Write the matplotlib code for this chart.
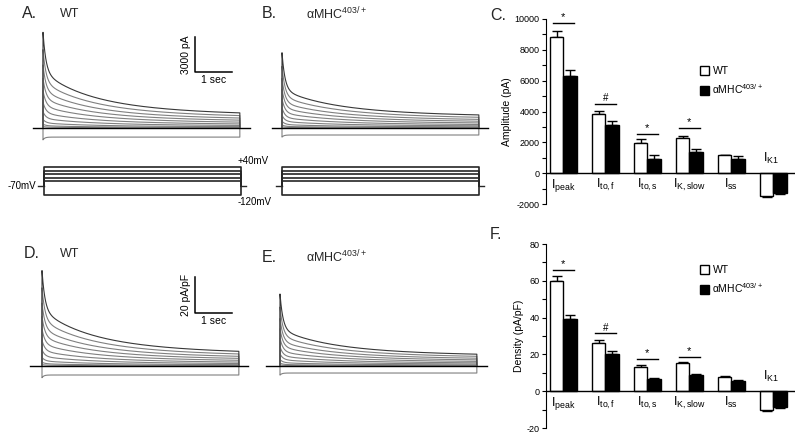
import numpy as np
import matplotlib.pyplot as plt
from matplotlib.patches import Patch
from matplotlib.ticker import MultipleLocator

plt.rcParams['font.family'] = ['Liberation Sans', 'DejaVu Sans']
plt.rcParams['mathtext.fontset'] = 'custom'
plt.rcParams['mathtext.rm'] = 'Liberation Sans'
plt.rcParams['mathtext.it'] = 'Liberation Sans'
plt.rcParams['mathtext.default'] = 'regular'
plt.rcParams['axes.unicode_minus'] = False

W, H = 800, 437

currents = [r'I$_{peak}$', r'I$_{to,f}$', r'I$_{to,s}$', r'I$_{K,slow}$', r'I$_{ss}$', r'I$_{K1}$']
amp_wt = [8850, 3850, 1950, 2250, 1150, -1450]
amp_wt_err = [350, 200, 250, 150, 50, 100]
amp_mut = [6300, 3150, 950, 1400, 950, -1300]
amp_mut_err = [400, 250, 250, 150, 150, 80]
dens_wt = [60, 26, 13, 15.5, 7.5, -10]
dens_wt_err = [2.5, 2, 1.2, 0.6, 0.5, 1]
dens_mut = [39, 20, 6.5, 9, 5.8, -8.5]
dens_mut_err = [2.5, 1.8, 0.6, 0.6, 0.5, 0.5]
amp_sig_idx = [0, 1, 2, 3]
amp_sig_y = [9750, 4500, 2550, 2950]
dens_sig_y = [66, 31.5, 17.5, 18.5]
sig_marks = ['*', '#', '*', '*']

# ---- current traces: components of the +40 mV trace (Ito,f, Ito,s, IK,slow, Iss) ----
comp_taus = [0.08, 1.0, 2.5]          # s
trace_A = [3400, 1750, 2000, 1050]    # pA
trace_B = [3150, 950, 1400, 950]
trace_D = [22, 11, 13.5, 6.5]         # pA/pF
trace_E = [19.5, 6.3, 8.7, 5.5]
step_scale = [1.0, 0.82, 0.66, 0.52, 0.39, 0.27, 0.17, 0.09, 0.04, 0.015]
inward_A, inward_B, inward_D, inward_E = -780, -600, -5.0, -3.9
pulse_dur = 5.32                      # s

# voltage protocol
steps_mv = [40, 20, 0, -20, -40, -120]
hold_mv = -70

fig = plt.figure(figsize=(W / 100, H / 100), dpi=100)


def px_axes(x0, y0, x1, y1):
    return fig.add_axes([x0 / W, 1 - y1 / H, (x1 - x0) / W, (y1 - y0) / H])


def trace_panel(box, t0_px, base_px, px_per_unit, comps, inward, line_px):
    x0, y0, x1, y1 = box
    pps = 37.0
    ax = px_axes(*box)
    ax.set_xlim((x0 - t0_px) / pps, (x1 - t0_px) / pps)
    ax.set_ylim(-(y1 - base_px) / px_per_unit, (base_px - y0) / px_per_unit)
    ax.axis('off')
    t = np.concatenate([np.linspace(0, 0.3, 400), np.linspace(0.3, pulse_dur, 600)[1:]])
    for s in step_scale[::-1]:
        cur = s * (comps[0] * np.exp(-t / comp_taus[0]) + comps[1] * np.exp(-t / comp_taus[1])
                   + comps[2] * np.exp(-t / comp_taus[2]) + comps[3])
        col = '0.22' if s == 1.0 else '0.5'
        ax.plot(np.r_[0, t, pulse_dur], np.r_[0, cur, 0], color=col, lw=0.8)
    cur = inward * (1 + 0.3 * np.exp(-t / 0.05))
    ax.plot(np.r_[0, t, pulse_dur], np.r_[0, cur, 0], color='0.5', lw=0.8)
    ax.plot([(line_px[0] - t0_px) / pps, (line_px[1] - t0_px) / pps], [0, 0], color='k', lw=1)
    return ax


def protocol_panel(t0_px, labels):
    pps = 37.0
    mv_px = 0.175
    x0 = 0 if labels else 250
    x1 = 280 if labels else 520
    ax = px_axes(x0, 150, x1, 215)
    ax.set_xlim((x0 - t0_px) / pps, (x1 - t0_px) / pps)
    ax.set_ylim(40 - (215 - 167) / mv_px, 40 + (167 - 150) / mv_px)
    ax.axis('off')
    for v in steps_mv:
        ax.plot([0, 0, pulse_dur, pulse_dur], [hold_mv, v, v, hold_mv], color='0.15', lw=1.2)
    ax.plot([-0.15, 0], [hold_mv, hold_mv], color='0.15', lw=1)
    ax.plot([pulse_dur, pulse_dur + 0.15], [hold_mv, hold_mv], color='0.15', lw=1)
    if labels:
        ax.text(-0.2, hold_mv, '-70mV', ha='right', va='center', fontsize=7)
        ax.text(pulse_dur - 0.1, steps_mv[0] + 4, '+40mV', ha='left', va='bottom', fontsize=7)
        ax.text(pulse_dur - 0.1, steps_mv[-1] - 10, '-120mV', ha='left', va='top', fontsize=7)


def scale_bar(ax, t, y, dy, label_y):
    ax.plot([t, t, t + 1], [y + dy, y, y], color='k', lw=1.1)
    ax.annotate(label_y, (t, y + dy / 2), xytext=(-3, 0), textcoords='offset points',
                rotation=90, ha='right', va='center', fontsize=7.5)
    ax.annotate('1 sec', (t + 0.5, y), xytext=(0, -2), textcoords='offset points',
                ha='center', va='top', fontsize=7.5)


axA = trace_panel((25, 22, 255, 150), 43, 128, 35 / 3000, trace_A, inward_A, (33, 250))
scale_bar(axA, (195 - 43) / 37, (128 - 72) * 3000 / 35, 3000, '3000 pA')
axB = trace_panel((265, 22, 495, 150), 282, 128, 35 / 3000, trace_B, inward_B, (272, 488))
axD = trace_panel((25, 262, 255, 390), 42, 366, 1.8, trace_D, inward_D, (30, 248))
scale_bar(axD, (195 - 42) / 37, (366 - 313) / 1.8, 20, '20 pA/pF')
axE = trace_panel((262, 262, 495, 390), 280, 366, 1.8, trace_E, inward_E, (266, 487))
protocol_panel(44, True)
protocol_panel(282, False)


def bar_panel(box, wt, wt_err, mut, mut_err, sig_y, ylim, major, minor, ylabel, leg_y):
    ax = px_axes(*box)
    ax.set_xlim(-0.412, 5.517)
    ax.set_ylim(*ylim)
    x = np.arange(len(currents))
    w = 0.32
    ax.bar(x - w / 2, wt, w, color='white', edgecolor='k', lw=1, zorder=2)
    ax.bar(x + w / 2, mut, w, color='k', edgecolor='k', lw=1, zorder=2)
    for xs, vals, errs in ((x - w / 2, wt, wt_err), (x + w / 2, mut, mut_err)):
        lo = [e if v < 0 else 0 for v, e in zip(vals, errs)]
        hi = [0 if v < 0 else e for v, e in zip(vals, errs)]
        ax.errorbar(xs, vals, yerr=[lo, hi], fmt='none', ecolor='k', elinewidth=1,
                    capsize=3.5, capthick=1, zorder=1)
    ax.axhline(0, color='k', lw=1, zorder=3)
    for i, lab in enumerate(currents):
        if wt[i] < 0:
            ax.annotate(lab, (i - 0.05, 0), xytext=(0, 5), textcoords='offset points',
                        ha='center', va='bottom', fontsize=9)
        else:
            ax.annotate(lab, (i, 0), xytext=(0, -3), textcoords='offset points',
                        ha='center', va='top', fontsize=9)
    for i, y, m in zip(amp_sig_idx, sig_y, sig_marks):
        ax.plot([i - 0.25, i + 0.25], [y, y], color='k', lw=1)
        ax.annotate(m, (i, y), xytext=(0, 0.5), textcoords='offset points',
                    ha='center', va='bottom', fontsize=8 if m == '*' else 7)
    for s in ('top', 'right', 'bottom'):
        ax.spines[s].set_visible(False)
    ax.spines['left'].set_linewidth(0.8)
    ax.set_xticks([])
    ax.yaxis.set_major_locator(MultipleLocator(major))
    ax.yaxis.set_minor_locator(MultipleLocator(minor))
    ax.tick_params(axis='y', which='both', length=3, width=0.8, labelsize=6.5, pad=1.5)
    ax.set_ylabel(ylabel, fontsize=7.5, labelpad=2)
    handles = [Patch(facecolor='white', edgecolor='k', lw=1),
               Patch(facecolor='k', edgecolor='k', lw=1)]
    ax.legend(handles, ['WT', r'αMHC$^{403/+}$'], loc='upper left',
              bbox_to_anchor=(700 / W, 1 - leg_y / H), bbox_transform=fig.transFigure,
              frameon=False, fontsize=7.5, handlelength=0.9, handleheight=1.0,
              handletextpad=0.3, labelspacing=0.6, borderpad=0, borderaxespad=0)
    return ax


bar_panel((546, 19, 795, 204), amp_wt, amp_wt_err, amp_mut, amp_mut_err, amp_sig_y,
          (-2000, 10000), 2000, 1000, 'Amplitude (pA)', 66)
bar_panel((546, 244, 795, 428), dens_wt, dens_wt_err, dens_mut, dens_mut_err, dens_sig_y,
          (-20, 80), 20, 10, 'Density (pA/pF)', 265)

# panel letters and genotype titles
for lx, ly, s in [(22, 14, 'A.'), (262, 14, 'B.'), (490, 15, 'C.'),
                  (24, 254, 'D.'), (262, 257, 'E.'), (490, 234, 'F.')]:
    fig.text(lx / W, 1 - ly / H, s, fontsize=11.5, ha='left', va='center', color='0.15')
for lx, ly, s in [(60, 14, 'WT'), (306, 14, r'αMHC$^{403/+}$'),
                  (60, 254, 'WT'), (306, 257, r'αMHC$^{403/+}$')]:
    fig.text(lx / W, 1 - ly / H, s, fontsize=9, ha='left', va='center', color='0.15')

fig.savefig('out.png', dpi=100)
